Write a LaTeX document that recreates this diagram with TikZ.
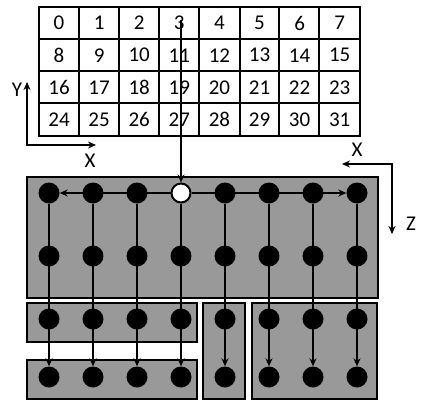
\documentclass[tikz,border=0pt]{standalone}
\usepackage{fontspec}
\setmainfont{Carlito}
\usetikzlibrary{arrows.meta}
\begin{document}
\begin{tikzpicture}[x=1pt,y=-1pt,
 panel/.style={draw=black,line width=2.4pt,fill=black!40},
 dotb/.style={circle,fill=black,minimum size=21pt,inner sep=0pt},
 odot/.style={circle,draw=black,line width=2pt,fill=white,minimum size=19pt,inner sep=0pt},
 conn/.style={line width=2.2pt,-{Stealth[length=8pt,width=7pt]}},
 axis/.style={line width=1.8pt,{Stealth[length=8pt,width=7pt]}-{Stealth[length=8pt,width=7pt]}},
 cell/.style={font=\fontsize{21}{21}\selectfont},
 axlbl/.style={font=\fontsize{21}{21}\selectfont},
 grid/.style={line width=1.6pt}]
\useasboundingbox (0,0) rectangle (421,400);
% table
\draw[grid] (39,7) rectangle (360,136);
\foreach \xx in {79,119,159,199,240,279,319} \draw[grid] (\xx,7) -- (\xx,136);
\foreach \yy in {39,71,103} \draw[grid] (39,\yy) -- (360,\yy);
\foreach \r in {0,...,3}{
  \foreach \c in {0,...,7}{
    \pgfmathtruncatemacro{\n}{\r*8+\c}
    \node[cell] (c\n) at ({59+40.1*\c},{23+32.25*\r}) {\n};
  }
}
% panels
\draw[panel] (27,177) rectangle (378,298);
\draw[panel] (27,303) rectangle (197,342);
\draw[panel] (27,360) rectangle (197,399);
\draw[panel] (203,303) rectangle (245,399);
\draw[panel] (252,303) rectangle (377,399);
% dots
\foreach \r/\yy in {0/193,1/256,2/319,3/377}{
  \foreach \c in {0,...,7}{
    \ifnum\r=0 \ifnum\c=3
      \node[odot] (d-\r-\c) at ({49+44*\c},\yy) {};
    \else
      \node[dotb] (d-\r-\c) at ({49+44*\c},\yy) {};
    \fi
    \else
      \node[dotb] (d-\r-\c) at ({49+44*\c},\yy) {};
    \fi
  }
}
% connectors
\coordinate (src) at (181,20);
\draw[conn] (src) -- (d-0-3);
\draw[conn] (d-0-3) -- (d-0-0);
\draw[conn] (d-0-3) -- (d-0-7);
\foreach \c in {0,...,7} \draw[conn] (d-0-\c) -- (d-3-\c);
% axes left
\coordinate (lo) at (27,145);
\coordinate (ly) at (27,82);
\coordinate (lx) at (96,145);
\draw[axis] (ly) -- (lo) -- (lx);
\node[axlbl] (ylab) at (17,90) {Y};
\node[axlbl] (xlab) at (90,161) {X};
% axes right
\coordinate (ro) at (392,164);
\coordinate (rx) at (342,164);
\coordinate (rz) at (392,234);
\draw[axis] (rx) -- (ro) -- (rz);
\node[axlbl] (xlab2) at (357,150) {X};
\node[axlbl] (zlab) at (411,224) {Z};
\end{tikzpicture}
\end{document}
